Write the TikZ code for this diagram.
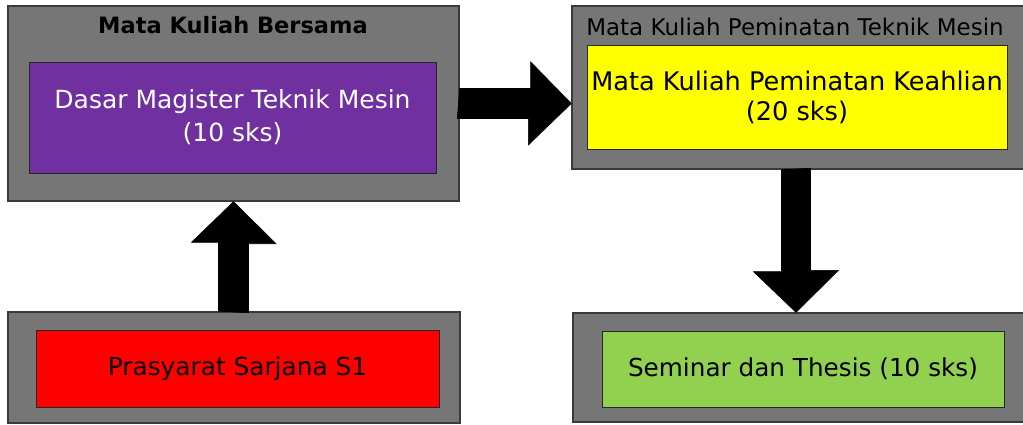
\documentclass[tikz,border=0pt]{standalone}
\usepackage{fontspec}
\setmainfont{DejaVu Sans}
\usetikzlibrary{calc}
\definecolor{panelgray}{HTML}{767676}
\definecolor{panelline}{HTML}{3A3A3A}
\definecolor{mkpurple}{HTML}{7030A0}
\definecolor{mkyellow}{HTML}{FFFF00}
\definecolor{mkred}{HTML}{FF0000}
\definecolor{mkgreen}{HTML}{92D050}
\tikzset{
  panel/.style={draw=panelline, line width=1.4pt, fill=panelgray, inner sep=0pt},
  course/.style={draw=black!85, line width=1pt, inner sep=0pt, align=center, font=\fontsize{25}{33}\selectfont},
  paneltitle/.style={inner sep=0pt},
  blockarrow/.style={fill=black, draw=black, line width=0.6pt, line join=miter}
}
\begin{document}
\begin{tikzpicture}[x=1pt,y=-1pt]
\useasboundingbox (0,0) rectangle (1023,424);
\fill[white] (0,0) rectangle (1023,424);

% panels
\node[panel, minimum width=451pt, minimum height=195pt] (box1) at (233.5,103.5) {};
\node[panel, minimum width=454pt, minimum height=163pt] (box2) at (799,87.5) {};
\node[panel, minimum width=452pt, minimum height=111pt] (box3) at (234,367.5) {};
\node[panel, minimum width=453pt, minimum height=109pt] (box4) at (799.5,367.5) {};

% panel titles
\node[paneltitle, font=\fontsize{22.5}{24}\selectfont\bfseries] (t1) at (233,25) {Mata Kuliah Bersama};
\node[paneltitle, font=\fontsize{23}{24}\selectfont] (t2) at (795,27) {Mata Kuliah Peminatan Teknik Mesin};

% course boxes
\node[course, fill=mkpurple, text=white, minimum width=407pt, minimum height=111pt] (dasar) at (232.5,117.5)
  {Dasar Magister Teknik Mesin\\(10 sks)};
\node[course, fill=mkyellow, minimum width=420pt, minimum height=104pt, font=\fontsize{25.6}{30}\selectfont] (minat) at (797,97)
  {Mata Kuliah Peminatan Keahlian\\(20 sks)};
\node[course, fill=mkred, minimum width=403pt, minimum height=77pt, font=\fontsize{24.8}{30}\selectfont] (s1) at (237.5,368.5)
  {Prasyarat Sarjana S1};
\node[course, fill=mkgreen, minimum width=402pt, minimum height=76pt, font=\fontsize{24.7}{30}\selectfont] (thesis) at (803,369)
  {Seminar dan Thesis (10 sks)};

% block arrows
\coordinate (rtip) at (box2.west |- box1.east);
\filldraw[blockarrow] (box1.east) ++(0,-15) -- ++(71,0) -- ++(0,-26.5) -- (rtip)
  -- ++(-43,41.5) -- ++(0,-26.5) -- ++(-71,0) -- cycle;

\filldraw[blockarrow] (box3.north -| box1.south) ++(-15,0) -- ++(0,-69) -- ++(-27,0) -- (box1.south)
  -- ++(42.5,42) -- ++(-27.5,0) -- ++(0,69) -- cycle;

\coordinate (dx) at (796,0);
\coordinate (dtip) at (dx |- box4.north);
\filldraw[blockarrow] (dx |- box2.south) ++(-14.5,0) -- ++(0,102) -- ++(-28,0) -- (dtip)
  -- ++(42.5,-42) -- ++(-28,0) -- ++(0,-102) -- cycle;
\end{tikzpicture}
\end{document}
